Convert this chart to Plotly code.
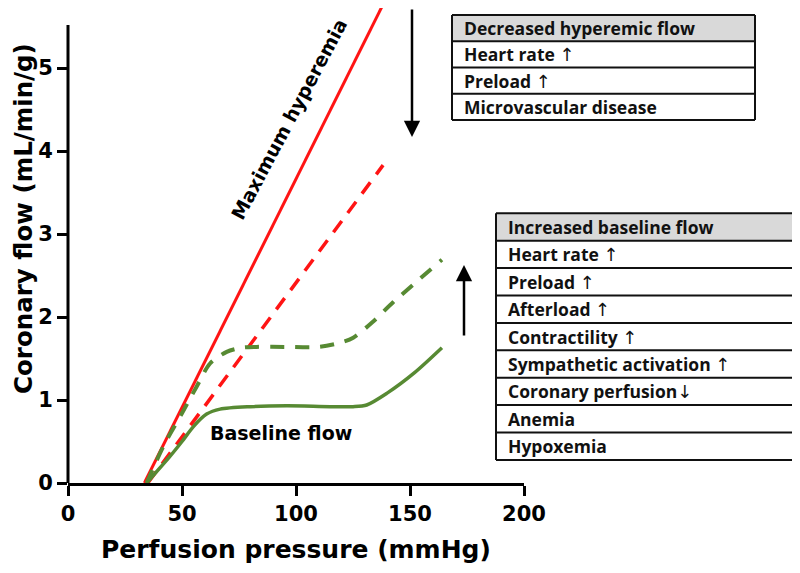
import plotly.graph_objects as go

# ---------------- data ----------------
max_hyper_x = [33.5, 138.8]
max_hyper_y = [0.0, 5.80]

reduced_hyper_x = [35.0, 138.2]
reduced_hyper_y = [0.0, 3.83]

baseline_x = [34.5, 44.7, 50.0, 55.0, 60.8, 66.7, 80.0, 96.0, 115.0, 125.0, 131.0, 139.8, 152.0, 164.0]
baseline_y = [0.00, 0.32, 0.50, 0.68, 0.83, 0.89, 0.92, 0.93, 0.92, 0.92, 0.94, 1.08, 1.33, 1.63]

incr_baseline_x = [34.5, 41.8, 50.0, 56.4, 62.3, 69.6, 76.0, 82.7, 95.0, 110.0, 119.3, 125.1, 134.0, 142.7, 164.0]
incr_baseline_y = [0.00, 0.44, 0.84, 1.16, 1.44, 1.58, 1.63, 1.64, 1.64, 1.64, 1.69, 1.75, 1.95, 2.18, 2.69]

x_ticks = [0, 50, 100, 150, 200]
y_ticks = [0, 1, 2, 3, 4, 5]

UP, DOWN = "\u2191", "\u2193"
table1_header = "Decreased hyperemic flow"
table1_rows = [("Heart rate ", UP), ("Preload ", UP), ("Microvascular disease", "")]

table2_header = "Increased baseline flow"
table2_rows = [("Heart rate ", UP), ("Preload ", UP), ("Afterload ", UP), ("Contractility ", UP),
               ("Sympathetic activation ", UP), ("Coronary perfusion", DOWN), ("Anemia", ""),
               ("Hypoxemia", "")]

# ---------------- layout geometry ----------------
# the page body adds an 8px offset; positions below are given in screen pixels
OFF = 8
W, H = 800, 573
L, T = 68 - OFF, 0
PLOT_RIGHT, PLOT_BOTTOM = 524 - OFF, 483 - OFF
R, B = W - PLOT_RIGHT, H - PLOT_BOTTOM
PW, PH = PLOT_RIGHT - L, PLOT_BOTTOM - T
Y_TOP = (483 - OFF) / 83.0


def pxx(sx):
    return (sx - OFF - L) / PW


def pxy(sy):
    return (PLOT_BOTTOM - (sy - OFF)) / PH


RED = "#ff1414"
GREEN = "#578a33"
AX_FONT = "DejaVu Sans"
TB_FONT = "Open Sans"

fig = go.Figure()
fig.add_trace(go.Scatter(x=max_hyper_x, y=max_hyper_y, mode="lines",
                         line=dict(color=RED, width=3), showlegend=False))
fig.add_trace(go.Scatter(x=reduced_hyper_x, y=reduced_hyper_y, mode="lines",
                         line=dict(color=RED, width=3.5, dash="14px,10px"), showlegend=False))
fig.add_trace(go.Scatter(x=baseline_x, y=baseline_y, mode="lines",
                         line=dict(color=GREEN, width=3.5, shape="spline", smoothing=0.8), showlegend=False))
fig.add_trace(go.Scatter(x=incr_baseline_x, y=incr_baseline_y, mode="lines",
                         line=dict(color=GREEN, width=4, dash="14px,11px", shape="spline", smoothing=0.8),
                         showlegend=False))

shapes = []
annotations = []

# y axis line (stops below the top of the plot)
shapes.append(dict(type="line", xref="paper", yref="paper", x0=0, x1=0, y0=0, y1=pxy(25),
                   line=dict(color="black", width=3)))


def cell_text(item):
    if isinstance(item, tuple):
        label, arrow = item
    else:
        label, arrow = item, ""
    s = "<b>" + label + "</b>"
    if arrow:
        s += '<span style="font-family:DejaVu Sans;font-size:18px">' + arrow + "</span>"
    return s


def add_table(left, right, top, row_h, header, rows):
    n = len(rows) + 1
    shapes.append(dict(type="rect", xref="paper", yref="paper",
                       x0=pxx(left), x1=pxx(right), y0=pxy(top + row_h), y1=pxy(top),
                       fillcolor="#d9d9d9", line=dict(width=0), layer="below"))
    for i in range(n + 1):
        y = top + i * row_h
        shapes.append(dict(type="line", xref="paper", yref="paper",
                           x0=pxx(left), x1=pxx(right), y0=pxy(y), y1=pxy(y),
                           line=dict(color="#111111", width=2)))
    for xx in (left, right):
        shapes.append(dict(type="line", xref="paper", yref="paper",
                           x0=pxx(xx), x1=pxx(xx), y0=pxy(top), y1=pxy(top + n * row_h),
                           line=dict(color="#111111", width=2)))
    for i, item in enumerate([header] + rows):
        yc = top + (i + 0.5) * row_h
        annotations.append(dict(xref="paper", yref="paper", x=pxx(left + 10), y=pxy(yc),
                                xanchor="left", yanchor="middle", showarrow=False,
                                text=cell_text(item),
                                font=dict(family=TB_FONT, size=17.5, color="#111111")))


add_table(452, 755, 15, 26.25, table1_header, table1_rows)
add_table(496, 799, 213.3, 27.4, table2_header, table2_rows)

# arrows
annotations.append(dict(xref="paper", yref="paper", x=pxx(412), y=pxy(137), ax=0, ay=-134,
                        axref="pixel", ayref="pixel", showarrow=True, arrowhead=2, arrowsize=1.3,
                        arrowwidth=2.5, arrowcolor="black", text=""))
annotations.append(dict(xref="paper", yref="paper", x=pxx(464), y=pxy(265), ax=0, ay=72,
                        axref="pixel", ayref="pixel", showarrow=True, arrowhead=2, arrowsize=1.3,
                        arrowwidth=2.5, arrowcolor="black", text=""))

# curve labels
annotations.append(dict(xref="paper", yref="paper", x=pxx(289), y=pxy(119), showarrow=False,
                        xanchor="center", yanchor="middle",
                        text="<b>Maximum hyperemia</b>", textangle=-62,
                        font=dict(family=AX_FONT, size=19, color="black")))
annotations.append(dict(xref="paper", yref="paper", x=pxx(281), y=pxy(433), showarrow=False,
                        xanchor="center", yanchor="middle",
                        text="<b>Baseline flow</b>",
                        font=dict(family=AX_FONT, size=19, color="black")))

# axis titles
annotations.append(dict(xref="paper", yref="paper", x=pxx(296), y=pxy(549), showarrow=False,
                        xanchor="center", yanchor="middle",
                        text="<b>Perfusion pressure (mmHg)</b>",
                        font=dict(family=AX_FONT, size=25, color="black")))
annotations.append(dict(xref="paper", yref="paper", x=pxx(23), y=pxy(219), showarrow=False,
                        xanchor="center", yanchor="middle",
                        text="<b>Coronary flow (mL/min/g)</b>", textangle=-90,
                        font=dict(family=AX_FONT, size=24.5, color="black")))

fig.update_layout(
    width=W, height=H,
    margin=dict(l=L, r=R, t=T, b=B, autoexpand=False),
    paper_bgcolor="white", plot_bgcolor="white",
    shapes=shapes, annotations=annotations,
    xaxis=dict(range=[0, 200], tickvals=x_ticks, ticktext=["<b>%d</b>" % v for v in x_ticks],
               showgrid=False, zeroline=False, showline=True, linecolor="black", linewidth=3,
               ticks="outside", ticklen=10, tickwidth=3, tickcolor="black",
               tickfont=dict(family=AX_FONT, size=21, color="black")),
    yaxis=dict(range=[0, Y_TOP], tickvals=y_ticks, ticktext=["<b>%d</b>" % v for v in y_ticks],
               showgrid=False, zeroline=False, showline=False,
               ticks="outside", ticklen=10, tickwidth=3, tickcolor="black",
               tickfont=dict(family=AX_FONT, size=21, color="black")),
)

fig.write_html("out.html")
